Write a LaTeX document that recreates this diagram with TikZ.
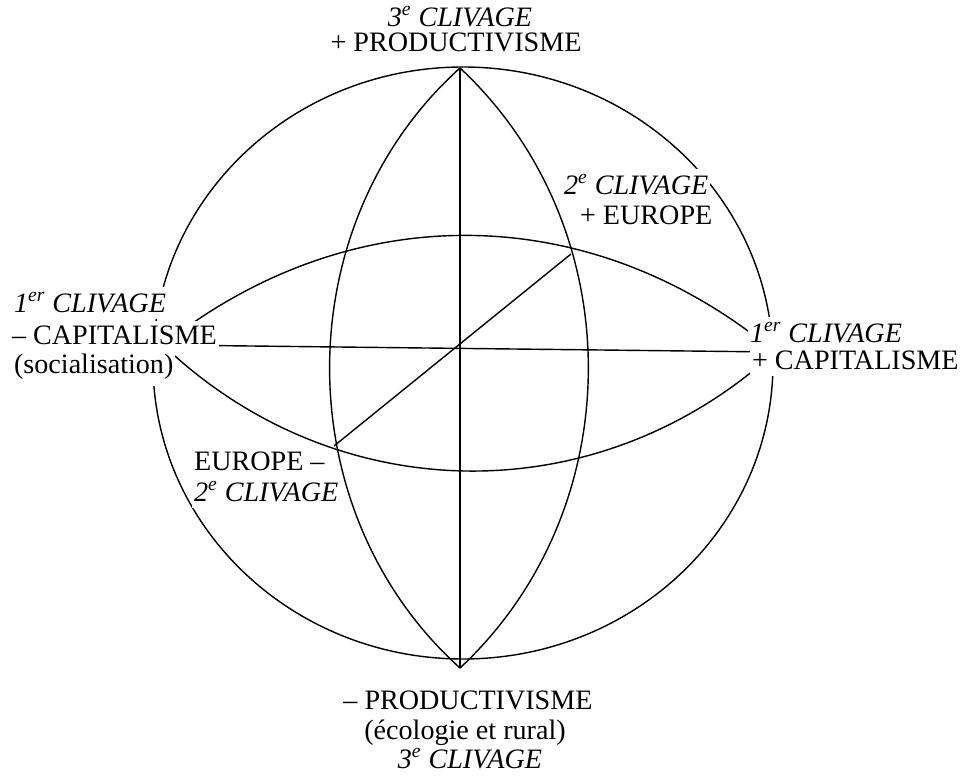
\documentclass[tikz,border=0pt]{standalone}
\usepackage{fontspec}
\setmainfont{Liberation Serif}
\usetikzlibrary{backgrounds}
\begin{document}
\begin{tikzpicture}[x=0.02cm, y=0.02cm,
  trait/.style={line width=0.8pt},
  txt/.style={inner xsep=1pt, inner ysep=0pt, font=\fontsize{16}{17}\selectfont},
  clv/.style={txt, font=\fontsize{16}{17}\selectfont\itshape}]
\useasboundingbox (0,0) rectangle (965,-776);
% Libelles
\node[clv, anchor=base] (haut1) at (460,-27) {3\textsuperscript{e} CLIVAGE};
\node[txt, anchor=base] (haut2) at (456,-52) {+ PRODUCTIVISME};
\node[clv, anchor=base west] (ne1) at (562,-195) {2\textsuperscript{e} CLIVAGE};
\node[txt, anchor=base west] (ne2) at (578,-225) {+ EUROPE};
\node[clv, anchor=base west] (g1) at (12,-313) {1\textsuperscript{er} CLIVAGE};
\node[txt, anchor=base west] (g2) at (10,-345) {-- CAPITALISME};
\node[txt, anchor=base west] (g3) at (12,-374) {(socialisation)};
\node[clv, anchor=base west] (d1) at (748,-343) {1\textsuperscript{er} CLIVAGE};
\node[txt, anchor=base west] (d2) at (750,-370) {+ CAPITALISME};
\node[txt, anchor=base west] (so1) at (192,-471) {EUROPE --};
\node[clv, anchor=base west] (so2) at (192,-502) {2\textsuperscript{e} CLIVAGE};
\node[txt, anchor=base] (bas1) at (468,-710) {-- PRODUCTIVISME};
\node[txt, anchor=base] (bas2) at (465,-740) {(écologie et rural)};
\node[clv, anchor=base] (bas3) at (470,-769) {3\textsuperscript{e} CLIVAGE};
\begin{scope}[on background layer]
% Sphere des trois clivages
\draw[trait] (463,-363) ellipse (310 and 296);
\coordinate (N) at (460,-68);
\coordinate (S) at (460,-668);
\coordinate (W) at (163,-345);
\coordinate (E) at (775,-352);
\coordinate (ne) at (571,-254);
\coordinate (sw) at (334,-446);
\draw[trait] (N) to[bend left=47] (S);
\draw[trait] (N) to[bend right=48] (S);
\draw[trait] (N) -- (S);
\draw[trait] (W) to[bend left=39] (E);
\draw[trait] (W) to[bend right=43] (E);
\draw[trait] (W) -- (E);
\draw[trait] (sw) -- (ne);
% caches sous les libelles
\foreach \n in {haut1,haut2,ne1,ne2,g1,g2,g3,d1,d2,so1,so2,bas1,bas2,bas3}
  \fill[white] ([yshift=-3pt]\n.south west) rectangle ([yshift=3pt]\n.north east);
\end{scope}
\end{tikzpicture}
\end{document}
